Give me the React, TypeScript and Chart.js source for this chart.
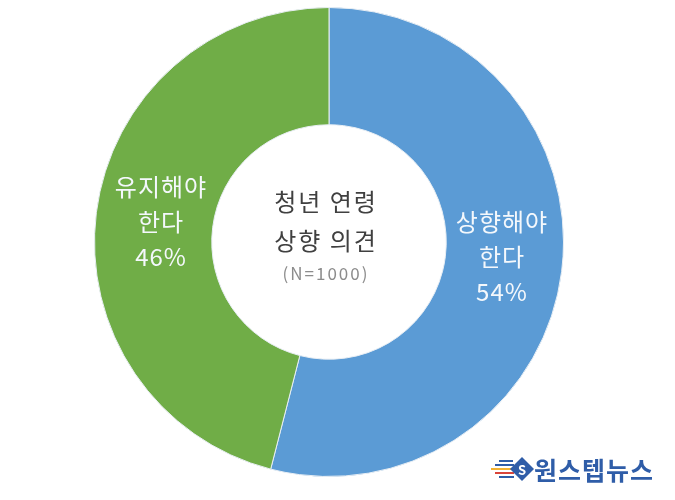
import React, { useEffect, useRef } from "react";
import { Chart, registerables } from "chart.js";

Chart.register(...registerables);

const categories = ["상향해야 한다", "유지해야 한다"];
const labelLines = [["상향해야", "한다"], ["유지해야", "한다"]];
const values = [54, 46];
const colors = ["#5B9BD5", "#70AD47"];
const centerLines = ["청년 연령", "상향 의견"];
const centerNote = "(N=1000)";
const logoText = "원스텝뉴스";

const FONT = '"Noto Sans CJK KR", "Noto Sans", sans-serif';

function spaced(ctx: any, text: string, x: number, y: number, sp: number) {
  ctx.letterSpacing = sp + "px";
  // compensate trailing spacing so text stays centered
  ctx.fillText(text, x + sp / 2, y);
  ctx.letterSpacing = "0px";
}

const labelPlugin = {
  id: "labels",
  afterDraw(chart: any) {
    const ctx = chart.ctx;
    const meta = chart.getDatasetMeta(0);
    ctx.save();
    ctx.textAlign = "center";
    ctx.textBaseline = "middle";
    meta.data.forEach((arc: any, i: number) => {
      const p = arc.tooltipPosition();
      const lines = [...labelLines[i], values[i] + "%"];
      const lh = 35;
      const dy = i === 0 ? -7 : 2;
      const dx = i === 0 ? -2 : 6;
      ctx.fillStyle = "#F4F8FC";
      ctx.font = "24px " + FONT;
      lines.forEach((t, k) => {
        spaced(ctx, t, p.x + dx, p.y + dy + (k - 1) * lh, 1);
      });
    });
    // center text
    const c = meta.data[0];
    const cx = c.x;
    const cy = c.y;
    ctx.fillStyle = "#404040";
    ctx.font = "24px " + FONT;
    spaced(ctx, centerLines[0], cx - 4, cy - 40, 2);
    spaced(ctx, centerLines[1], cx - 4, cy - 1, 2);
    ctx.fillStyle = "#8C8C8C";
    ctx.font = "17px " + FONT;
    spaced(ctx, centerNote, cx - 4, cy + 32, 2);

    // logo
    ctx.fillStyle = "#2F5DA8";
    ctx.font = "bold 25px " + FONT;
    ctx.textAlign = "left";
    ctx.letterSpacing = "1px";
    ctx.fillText(logoText, 534, 470);
    ctx.letterSpacing = "0px";
    const strokes: [number, number, number, string][] = [
      [499, 513, 461, "#2F5DA8"],
      [495, 514, 465, "#2F5DA8"],
      [491, 512, 469, "#F2B233"],
      [495, 514, 473, "#D9453B"],
      [499, 514, 477, "#2F5DA8"],
    ];
    ctx.lineWidth = 2;
    strokes.forEach(([x1, x2, y, col]) => {
      ctx.strokeStyle = col;
      ctx.beginPath();
      ctx.moveTo(x1, y);
      ctx.lineTo(x2, y);
      ctx.stroke();
    });
    ctx.fillStyle = "#2F5DA8";
    ctx.beginPath();
    ctx.moveTo(522, 457);
    ctx.lineTo(534, 469);
    ctx.lineTo(522, 481);
    ctx.lineTo(510, 469);
    ctx.closePath();
    ctx.fill();
    ctx.fillStyle = "#fff";
    ctx.font = "bold 13px " + FONT;
    ctx.textAlign = "center";
    ctx.fillText("S", 522, 470);
    ctx.restore();
  },
};

export default function App() {
  const ref = useRef<HTMLCanvasElement>(null);
  useEffect(() => {
    if (!ref.current) return;
    const chart = new Chart(ref.current, {
      type: "doughnut",
      data: {
        labels: categories,
        datasets: [
          {
            data: values,
            backgroundColor: colors,
            borderColor: "#E8EEF4",
            borderWidth: 1,
          },
        ],
      },
      options: {
        responsive: false,
        animation: false,
        cutout: "50%",
        layout: { padding: { left: 94, right: 111, top: 7, bottom: 23 } },
        plugins: {
          legend: { display: false },
          tooltip: { enabled: false },
        },
      },
      plugins: [labelPlugin],
    });
    return () => chart.destroy();
  }, []);
  return (
    <div style={{ position: "fixed", left: 0, top: 0, width: 675, height: 500, background: "#fff" }}>
      <canvas ref={ref} width={675} height={500} style={{ width: 675, height: 500 }} />
    </div>
  );
}
